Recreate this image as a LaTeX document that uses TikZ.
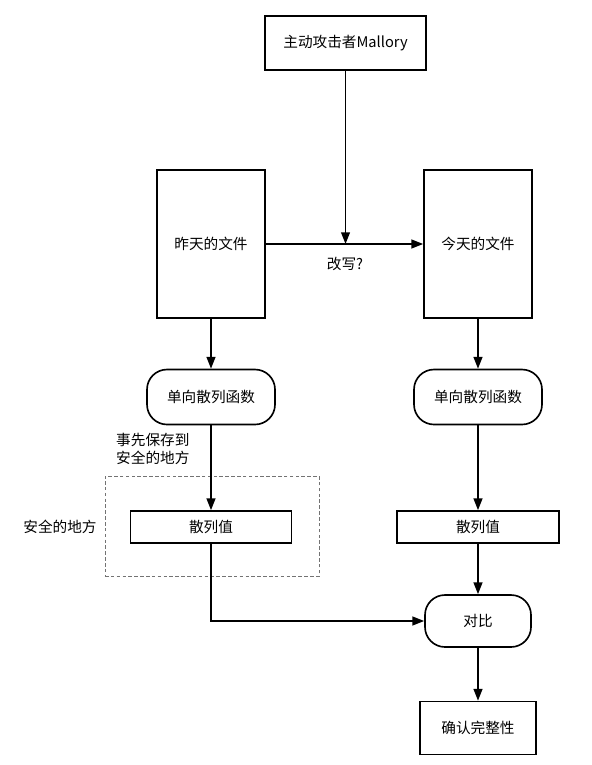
\documentclass[tikz,border=0pt]{standalone}
\usepackage{fontspec}
\setmainfont{Noto Sans CJK SC}
\usepackage{xcolor}
\usepackage{tikz}
\usetikzlibrary{arrows.meta, positioning, shapes}

\begin{document}
\begin{tikzpicture}[x=0.03cm, y=-0.03cm,
    box/.style={rectangle, draw=black, line width=1.4pt, inner sep=0pt,
                font=\fontsize{12.5}{15}\selectfont, align=center},
    roundbox/.style={box, rounded corners=0.6cm},
    safe/.style={draw=black!55, densely dashed, line width=0.6pt, inner sep=0pt},
    lbl/.style={font=\fontsize{12.5}{16}\selectfont, align=left, inner sep=0pt},
    arrow/.style={-{Triangle[length=10pt,width=7.5pt]}, line width=1.4pt}]

\useasboundingbox (0,0) rectangle (591,765);

\node[safe, minimum width=6.42cm, minimum height=3cm] (safebox) at (212,526) {};
\node[box, minimum width=4.83cm, minimum height=1.62cm] (mallory) at (345.5,43) {主动攻击者Mallory};
\node[box, minimum width=3.24cm, minimum height=4.44cm] (yest) at (211,244) {昨天的文件};
\node[box, minimum width=3.24cm, minimum height=4.44cm] (today) at (478,244) {今天的文件};
\node[roundbox, minimum width=3.84cm, minimum height=1.65cm] (hashL) at (211,397) {单向散列函数};
\node[roundbox, minimum width=3.84cm, minimum height=1.65cm] (hashR) at (478,397) {单向散列函数};
\node[box, minimum width=4.83cm, minimum height=0.96cm] (valL) at (211,527) {散列值};
\node[box, minimum width=4.86cm, minimum height=0.96cm] (valR) at (478,527) {散列值};
\node[roundbox, minimum width=3.18cm, minimum height=1.56cm] (cmp) at (478,621) {对比};
\node[box, minimum width=3.48cm, minimum height=1.59cm] (ok) at (478,728) {确认完整性};

\node[lbl] (rewrite) at (345,264) {改写?};
\node[lbl, anchor=west] (store) at (116,449) {事先保存到\\安全的地方};
\node[lbl] (safelbl) at (60,527) {安全的地方};

\coordinate (meet) at (mallory.south |- yest.east);
\draw[arrow] (mallory) -- (meet);
\draw[arrow] (yest) -- (today);
\draw[arrow] (yest) -- (hashL);
\draw[arrow] (today) -- (hashR);
\draw[arrow] (hashL) -- (valL);
\draw[arrow] (hashR) -- (valR);
\draw[arrow] (valR) -- (cmp);
\draw[arrow] (valL) |- (cmp);
\draw[arrow] (cmp) -- (ok);
\end{tikzpicture}
\end{document}
